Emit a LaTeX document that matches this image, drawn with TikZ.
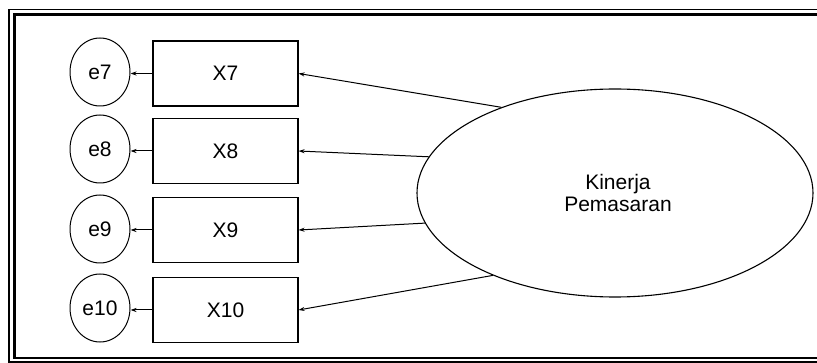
\documentclass[tikz,border=0pt]{standalone}
\usepackage{fontspec}
\setmainfont{Liberation Sans}
\usetikzlibrary{arrows.meta,shapes.geometric}
\begin{document}
\begin{tikzpicture}[x=1pt,y=-1pt,
  every node/.style={font=\fontsize{21}{21.5}\selectfont},
  obs/.style={draw,line width=1.1pt,rectangle,minimum width=145pt,minimum height=65pt,inner sep=0pt},
  err/.style={draw,line width=1pt,ellipse,minimum width=60pt,minimum height=68pt,inner sep=0pt},
  lat/.style={draw,line width=1.1pt,ellipse,minimum width=396pt,minimum height=208pt,inner sep=0pt},
  arr/.style={line width=1pt,-{Stealth[length=6pt,width=4pt]}},
  frameline/.style={line width=#1}]
\useasboundingbox (0,0) rectangle (817,363);
% frame
\draw[frameline=1.8pt] (830,9.5) -- (9,9.5) -- (9,362) -- (830,362);
\draw[frameline=2.2pt] (830,14.5) -- (14.5,14.5) -- (14.5,358) -- (830,358);
% observed
\node[obs] (x7) at (225.5,73.5) {X7};
\node[obs] (x8) at (225.5,151) {X8};
\node[obs] (x9) at (225.5,230) {X9};
\node[obs] (x10) at (225.5,310) {X10};
% errors
\node[err] (e7) at (100,72) {e7};
\node[err] (e8) at (100,149) {e8};
\node[err] (e9) at (100,229) {e9};
\node[err] (e10) at (100,308) {e10};
% latent
\node[lat] (k) at (615,193) {};
\node[align=center] (kt) at (618,193) {Kinerja\\Pemasaran};
% connectors
\draw[arr] (x7.west) -- (e7.east |- x7.west);
\draw[arr] (x8.west) -- (e8.east |- x8.west);
\draw[arr] (x9.west) -- (e9.east |- x9.west);
\draw[arr] (x10.west) -- (e10.east |- x10.west);
\draw[arr] (k.143.5) -- (x7.east);
\draw[arr] (k.169) -- (x8.east);
\draw[arr] (k.189.3) -- (x9.east);
\draw[arr] (k.214.5) -- (x10.east);
\end{tikzpicture}
\end{document}
